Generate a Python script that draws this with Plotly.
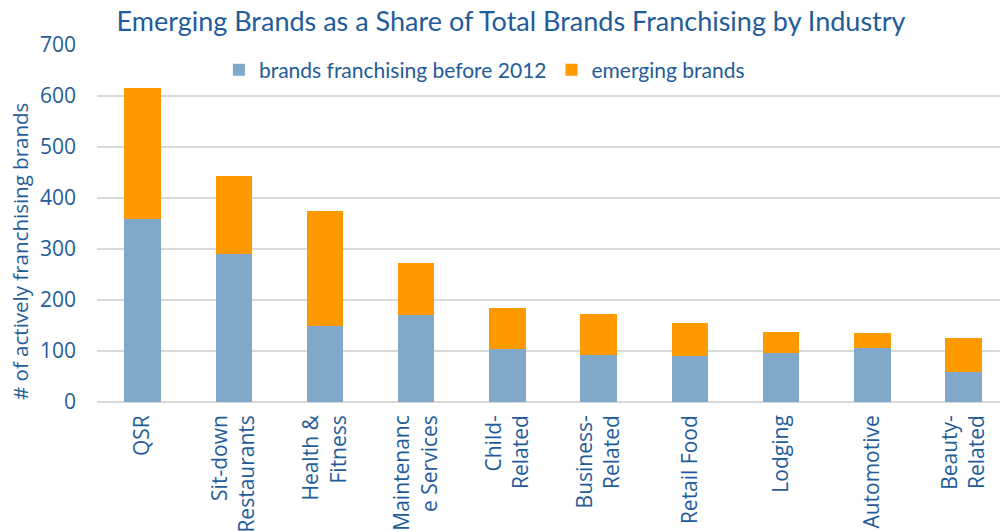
import plotly.graph_objects as go

categories = ["QSR", "Sit-down<br>Restaurants", "Health &<br>Fitness", "Maintenanc<br>e Services",
              "Child-<br>Related", "Business-<br>Related", "Retail Food", "Lodging",
              "Automotive", "Beauty-<br>Related"]
before_2012 = [359, 290, 150, 171, 103, 92, 91, 97, 105, 59]
emerging = [256, 153, 224, 102, 82, 81, 64, 40, 31, 66]
y_ticks = [0, 100, 200, 300, 400, 500, 600, 700]

TXT = "#1f5c99"
FONT = "Open Sans"

fig = go.Figure()
fig.add_trace(go.Bar(x=list(range(len(categories))), y=before_2012,
                     name="brands franchising before 2012",
                     marker=dict(color="#7fa8cb", line=dict(width=0)), width=0.4))
fig.add_trace(go.Bar(x=list(range(len(categories))), y=emerging,
                     name="emerging brands",
                     marker=dict(color="#fe9900", line=dict(width=0)), width=0.4))

fig.update_layout(
    barmode="stack",
    width=1000, height=531,
    margin=dict(l=97, r=0, t=45, b=129),
    paper_bgcolor="white", plot_bgcolor="white",
    font=dict(family=FONT, color=TXT),
    title=dict(text="Emerging Brands as a Share of Total Brands Franchising by Industry",
               x=0.511, xanchor="center", xref="container",
               y=1 - 22 / 531, yanchor="middle", yref="container",
               font=dict(family="Lato", size=27, color=TXT)),
    legend=dict(orientation="h", x=0.135, xanchor="left", y=0.93, yanchor="middle",
                traceorder="normal",
                font=dict(family="Lato", size=21, color=TXT), itemwidth=30,
                bgcolor="rgba(0,0,0,0)"),
    xaxis=dict(tickmode="array", tickvals=list(range(len(categories))), ticktext=categories,
               range=[-0.5, 9.4], tickangle=-90, showgrid=False, zeroline=False,
               showline=False, ticks="", ticklabelstandoff=8, automargin=False,
               tickfont=dict(size=21, color=TXT, family=FONT)),
    yaxis=dict(range=[0, 700], tickvals=y_ticks, showgrid=True, gridcolor="#d9d9d9",
               gridwidth=2, zeroline=True, zerolinecolor="#d9d9d9", zerolinewidth=2,
               showline=False, ticks="", ticklabelstandoff=20, automargin=False,
               tickfont=dict(size=21, color=TXT, family=FONT)),
    showlegend=True,
    annotations=[dict(text="# of actively franchising brands", textangle=-90,
                      xref="paper", yref="paper", x=(20 - 97) / 903, y=(402 - 252) / 357,
                      xanchor="center", yanchor="middle", showarrow=False,
                      font=dict(family=FONT, size=20.5, color=TXT))],
)

fig.write_html("out.html", config={"displayModeBar": False},
               post_script="document.body.style.margin='0';")
